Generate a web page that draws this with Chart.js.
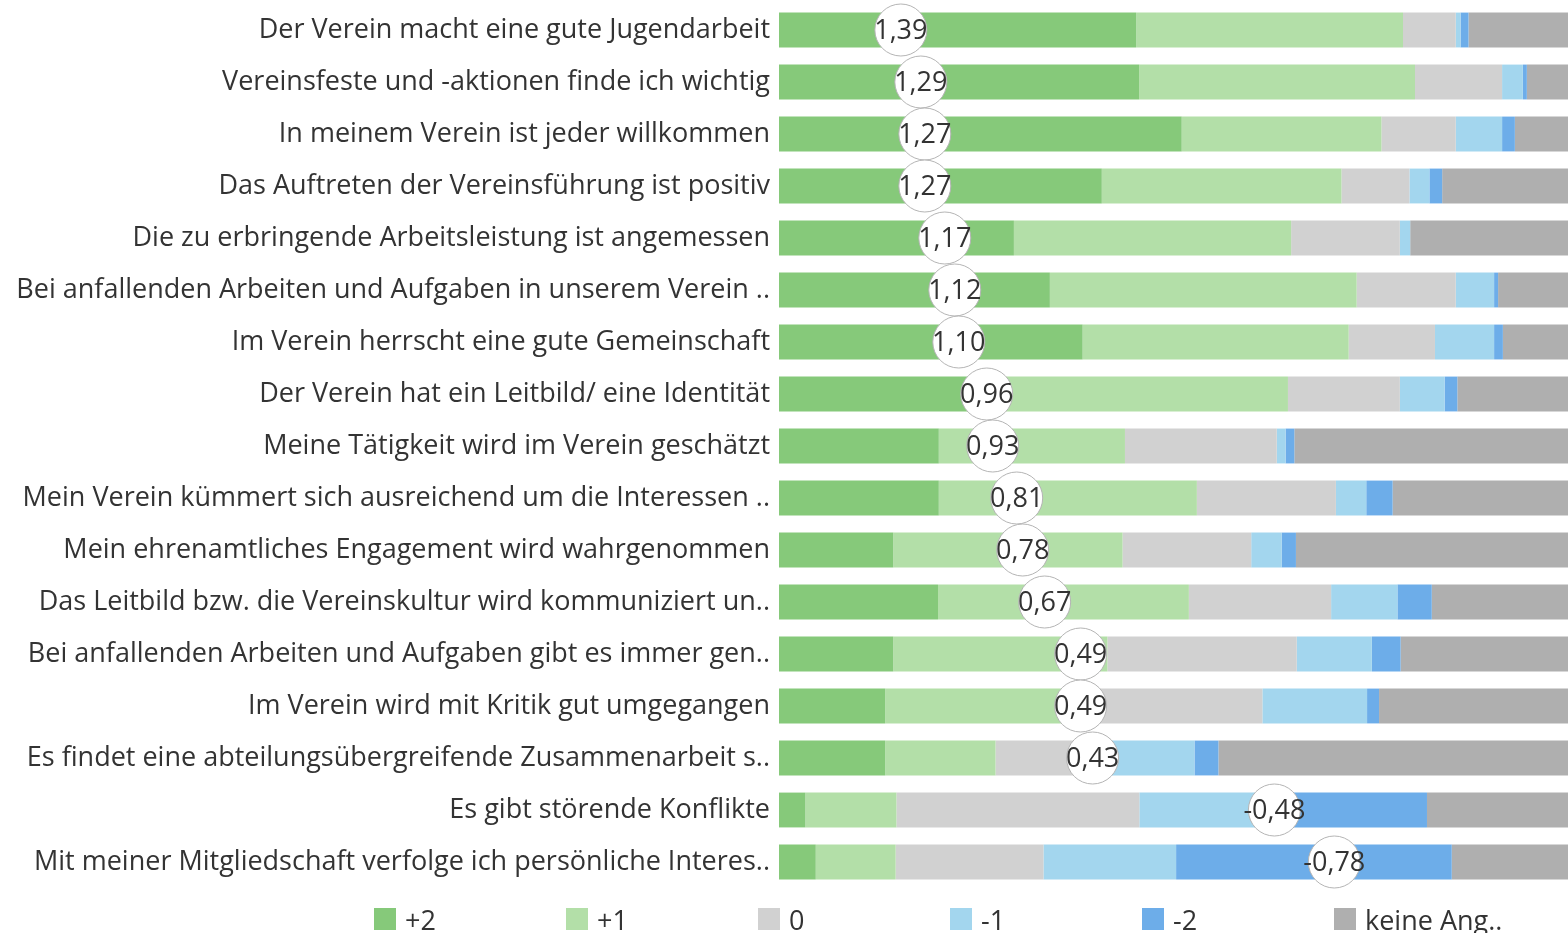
<!DOCTYPE html>
<html><head><meta charset="utf-8">
<script src="https://cdn.jsdelivr.net/npm/chart.js@4/dist/chart.umd.min.js"></script>
<style>
html,body{margin:0;padding:0;background:#fff;overflow:hidden;}
#wrap{position:absolute;left:0;top:0;width:1568px;height:933px;}
#legend{position:absolute;left:0;top:904px;height:30px;width:1568px;font-family:'Open Sans',sans-serif;font-size:27px;color:#333;}
.li{position:absolute;top:0;display:flex;align-items:center;height:30px;white-space:nowrap;}
.sw{width:22px;height:22px;margin-right:9px;}
</style></head><body>
<div id="wrap"><canvas id="c"></canvas></div>
<div id="legend"></div>
<script>
const categories = [
  'Der Verein macht eine gute Jugendarbeit',
  'Vereinsfeste und -aktionen finde ich wichtig',
  'In meinem Verein ist jeder willkommen',
  'Das Auftreten der Vereinsführung ist positiv',
  'Die zu erbringende Arbeitsleistung ist angemessen',
  'Bei anfallenden Arbeiten und Aufgaben in unserem Verein ..',
  'Im Verein herrscht eine gute Gemeinschaft',
  'Der Verein hat ein Leitbild/ eine Identität',
  'Meine Tätigkeit wird im Verein geschätzt',
  'Mein Verein kümmert sich ausreichend um die Interessen ..',
  'Mein ehrenamtliches Engagement wird wahrgenommen',
  'Das Leitbild bzw. die Vereinskultur wird kommuniziert un..',
  'Bei anfallenden Arbeiten und Aufgaben gibt es immer gen..',
  'Im Verein wird mit Kritik gut umgegangen',
  'Es findet eine abteilungsübergreifende Zusammenarbeit s..',
  'Es gibt störende Konflikte',
  'Mit meiner Mitgliedschaft verfolge ich persönliche Interes..'
];
const seriesLabels = ['+2', '+1', '0', '-1', '-2', 'keine Ang..'];
// Anteile in Prozent
const plus2    = [44.7, 45.1, 50.4, 40.4, 29.4, 33.9, 38.0, 26.6, 20.0, 20.0, 14.3, 19.9, 14.3, 13.3, 13.3, 3.3, 4.6];
const plus1    = [33.4, 34.5, 25.0, 30.0, 34.7, 38.4, 33.3, 37.1, 23.3, 32.3, 28.7, 31.4, 26.8, 26.3, 13.8, 11.4, 10.0];
const zero     = [6.6, 10.9, 9.3, 8.5, 13.6, 12.4, 10.8, 14.0, 19.0, 17.4, 16.1, 17.8, 23.7, 20.9, 14.1, 30.4, 18.5];
const minus1   = [0.6, 2.6, 5.8, 2.5, 1.3, 4.8, 7.4, 5.6, 1.1, 3.8, 3.8, 8.3, 9.4, 13.1, 10.8, 15.1, 16.6];
const minus2   = [1.0, 0.5, 1.6, 1.6, 0.0, 0.5, 1.1, 1.6, 1.1, 3.3, 1.8, 4.3, 3.6, 1.5, 3.0, 20.9, 34.5];
const noAnswer = [13.6, 6.4, 7.9, 16.9, 21.0, 10.0, 9.4, 15.0, 35.4, 23.3, 35.4, 18.4, 22.3, 24.9, 45.1, 18.9, 15.6];
// Mittelwerte
const means = [1.39, 1.29, 1.27, 1.27, 1.17, 1.12, 1.10, 0.96, 0.93, 0.81, 0.78, 0.67, 0.49, 0.49, 0.43, -0.48, -0.78];

const colors = ['#86c97a', '#b3dfa8', '#d1d1d1', '#a3d6ee', '#6dade9', '#afafaf'];
const seriesData = [plus2, plus1, zero, minus1, minus2, noAnswer];

const datasets = seriesData.map((d, i) => ({
  type: 'bar',
  label: seriesLabels[i],
  data: d,
  backgroundColor: colors[i],
  borderWidth: 0,
  xAxisID: 'x',
  yAxisID: 'y',
  stack: 's',
  barPercentage: 0.67,
  categoryPercentage: 1,
  order: 2
}));
datasets.push({
  type: 'scatter',
  label: 'Mittelwert',
  data: means.map((m, i) => ({ x: m, y: categories[i] })),
  xAxisID: 'x2',
  yAxisID: 'y',
  pointRadius: 26,
  pointHoverRadius: 26,
  pointBackgroundColor: '#ffffff',
  pointBorderColor: '#b4b4b4',
  pointBorderWidth: 1,
  clip: false,
  order: 1
});

const valueLabels = {
  id: 'valueLabels',
  afterDatasetsDraw(chart) {
    const ctx = chart.ctx;
    const idx = chart.data.datasets.findIndex(d => d.type === 'scatter');
    const meta = chart.getDatasetMeta(idx);
    ctx.save();
    ctx.font = '27px "Open Sans"';
    ctx.fillStyle = '#333333';
    ctx.textAlign = 'center';
    ctx.textBaseline = 'middle';
    meta.data.forEach((pt, i) => {
      const v = chart.data.datasets[idx].data[i].x;
      ctx.fillText(v.toFixed(2).replace('.', ','), pt.x, pt.y + 1);
    });
    ctx.restore();
  }
};

const chart = new Chart(document.getElementById('c'), {
  type: 'bar',
  data: { labels: categories, datasets },
  options: {
    indexAxis: 'y',
    responsive: true,
    maintainAspectRatio: false,
    animation: false,
    events: [],
    layout: { autoPadding: false, padding: { top: 4, bottom: 45, left: 0, right: 0 } },
    plugins: { legend: { display: false }, tooltip: { enabled: false } },
    scales: {
      x: { type: 'linear', stacked: true, min: 0, max: 98.75, display: false },
      x2: { type: 'linear', min: -1.95, max: 2, reverse: true, display: false },
      y: {
        type: 'category',
        stacked: true,
        grid: { display: false, drawTicks: false },
        border: { display: false },
        ticks: { color: '#333333', padding: 9, font: { family: 'Open Sans', size: 27 } },
        afterFit(scale) { scale.width = 779; scale.paddingTop = 0; scale.paddingBottom = 0; }
      }
    }
  },
  plugins: [valueLabels]
});

const legend = document.getElementById('legend');
chart.data.datasets.filter(d => d.type === 'bar').forEach((d, i) => {
  const item = document.createElement('div');
  item.className = 'li';
  item.style.left = (374 + i * 192) + 'px';
  const sw = document.createElement('span');
  sw.className = 'sw';
  sw.style.background = d.backgroundColor;
  const tx = document.createElement('span');
  tx.textContent = d.label;
  item.appendChild(sw);
  item.appendChild(tx);
  legend.appendChild(item);
});
</script>
</body></html>
